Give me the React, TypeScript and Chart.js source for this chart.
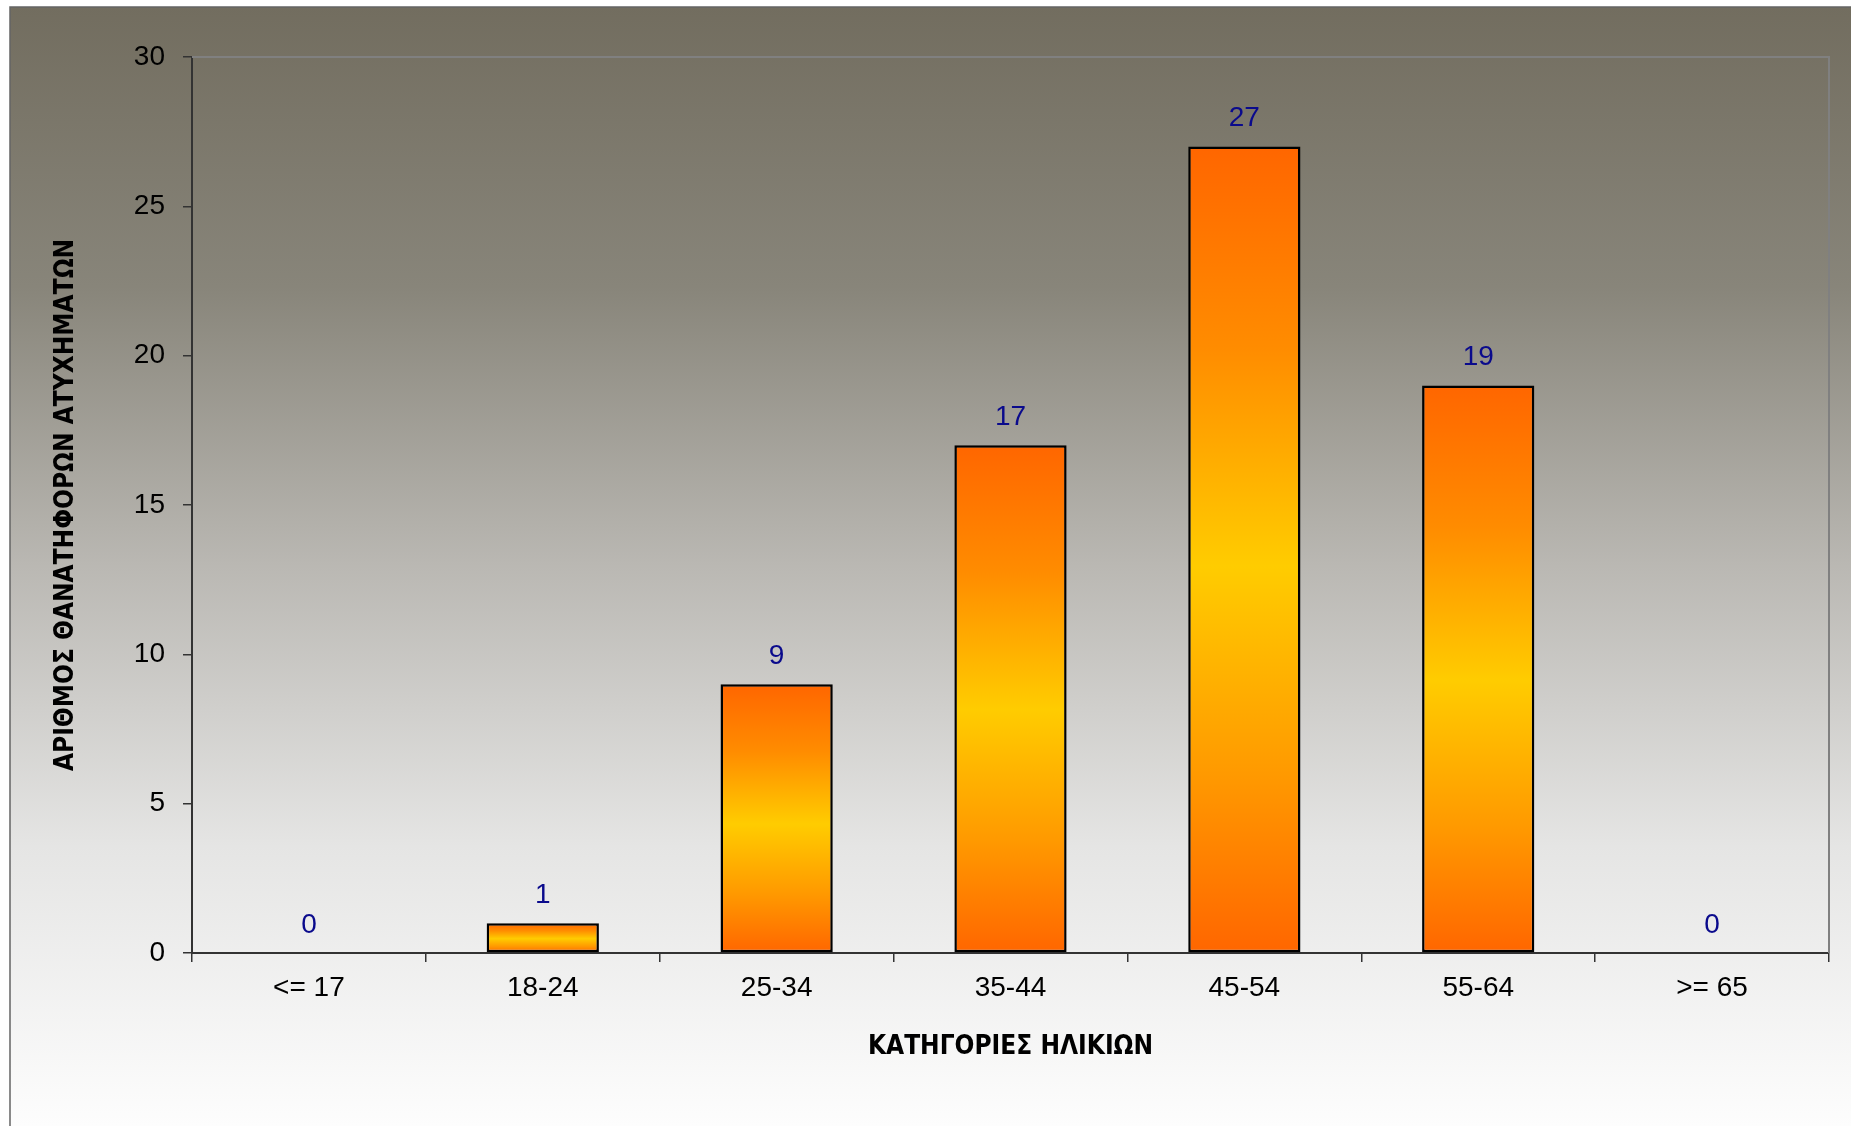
import React, { useEffect, useRef } from "react";
import { Chart, registerables } from "chart.js";

Chart.register(...registerables);

const categories: string[] = ["<= 17", "18-24", "25-34", "35-44", "45-54", "55-64", ">= 65"];
const deaths: number[] = [0, 1, 9, 17, 27, 19, 0];
const yTitle = "ΑΡΙΘΜΟΣ ΘΑΝΑΤΗΦΟΡΩΝ ΑΤΥΧΗΜΑΤΩΝ";
const xTitle = "ΚΑΤΗΓΟΡΙΕΣ ΗΛΙΚΙΩΝ";
const yMin = 0;
const yMax = 30;
const yStep = 5;

const W = 1851;
const H = 1126;

const backgroundPlugin = {
  id: "bgPlugin",
  beforeDraw(chart: any) {
    const ctx = chart.ctx as CanvasRenderingContext2D;
    ctx.save();
    ctx.fillStyle = "#ffffff";
    ctx.fillRect(0, 0, chart.width, chart.height);
    const x0 = 10, y0 = 7;
    const g = ctx.createLinearGradient(0, y0, 0, chart.height);
    g.addColorStop(0, "rgb(114,109,95)");
    g.addColorStop(0.25, "rgb(136,133,122)");
    g.addColorStop(0.5, "rgb(186,184,179)");
    g.addColorStop(0.75, "rgb(229,229,228)");
    g.addColorStop(1, "rgb(253,253,253)");
    ctx.fillStyle = g;
    ctx.fillRect(x0, y0, chart.width - x0, chart.height - y0);
    ctx.strokeStyle = "rgb(100,100,100)";
    ctx.lineWidth = 1.5;
    ctx.beginPath();
    ctx.moveTo(x0, chart.height + 2);
    ctx.lineTo(x0, y0);
    ctx.lineTo(chart.width + 2, y0);
    ctx.stroke();
    ctx.restore();
  },
  afterDraw(chart: any) {
    const ctx = chart.ctx as CanvasRenderingContext2D;
    const a = chart.chartArea;
    ctx.save();
    ctx.strokeStyle = "rgb(128,128,128)";
    ctx.lineWidth = 2;
    ctx.beginPath();
    ctx.moveTo(a.left, a.top);
    ctx.lineTo(a.right, a.top);
    ctx.lineTo(a.right, a.bottom);
    ctx.stroke();
    ctx.restore();
  },
};

const valueLabelPlugin = {
  id: "valueLabels",
  afterDatasetsDraw(chart: any) {
    const ctx = chart.ctx as CanvasRenderingContext2D;
    const meta = chart.getDatasetMeta(0);
    ctx.save();
    ctx.font = '28px "Liberation Sans", Arial, sans-serif';
    ctx.fillStyle = "#0a0a8c";
    ctx.textAlign = "center";
    ctx.textBaseline = "middle";
    meta.data.forEach((el: any, i: number) => {
      const v = chart.data.datasets[0].data[i];
      ctx.fillText(String(v), el.x, el.y - 28);
    });
    ctx.restore();
  },
};

export default function App() {
  const ref = useRef<HTMLCanvasElement | null>(null);

  useEffect(() => {
    document.body.style.margin = "0";
    document.body.style.overflow = "hidden";
    const canvas = ref.current;
    if (!canvas) return;
    const chart = new Chart(canvas, {
      type: "bar",
      data: {
        labels: categories,
        datasets: [
          {
            data: deaths,
            backgroundColor: (c: any) => {
              const ch = c.chart;
              if (!ch.chartArea || c.type !== "data") return "#ff9900";
              const ys = ch.scales.y;
              const top = ys.getPixelForValue(c.raw as number);
              const base = ys.getPixelForValue(0);
              if (base - top < 1) return "#ff6600";
              const g = ch.ctx.createLinearGradient(0, top, 0, base);
              g.addColorStop(0, "#ff6600");
              g.addColorStop(0.25, "#ff8c00");
              g.addColorStop(0.52, "#ffcc00");
              g.addColorStop(0.78, "#ff9900");
              g.addColorStop(1, "#ff6600");
              return g;
            },
            borderColor: "#000000",
            borderWidth: 2.5,
            borderSkipped: false,
            barPercentage: 0.48,
            categoryPercentage: 1,
          },
        ],
      },
      options: {
        responsive: false,
        animation: false,
        layout: { padding: { top: 57, right: 22, bottom: 0, left: 0 } },
        plugins: {
          legend: { display: false },
          tooltip: { enabled: false },
          title: { display: false },
        },
        scales: {
          x: {
            grid: {
              display: true,
              offset: true,
              drawOnChartArea: false,
              drawTicks: true,
              tickLength: 9,
              color: "#333333",
              lineWidth: 1.5,
            },
            border: { display: true, color: "#333333", width: 2 },
            ticks: {
              color: "#000000",
              padding: 9,
              maxRotation: 0,
              font: { family: '"Liberation Sans", Arial, sans-serif', size: 28 },
            },
            title: {
              display: true,
              text: xTitle,
              color: "#000000",
              font: { family: '"Liberation Sans Narrow", "DejaVu Sans Condensed", sans-serif', size: 26, weight: "bold" },
              padding: { top: 0, bottom: 63 },
            },
            afterFit: (s: any) => {
              s.height = 173;
            },
          },
          y: {
            min: yMin,
            max: yMax,
            ticks: {
              stepSize: yStep,
              color: "#000000",
              padding: 18,
              font: { family: '"Liberation Sans", Arial, sans-serif', size: 28 },
            },
            grid: {
              display: true,
              drawOnChartArea: false,
              drawTicks: true,
              tickLength: 9,
              color: "#333333",
              lineWidth: 1.5,
            },
            border: { display: true, color: "#333333", width: 2 },
            title: {
              display: true,
              text: yTitle,
              color: "#000000",
              font: { family: '"Liberation Sans Narrow", "DejaVu Sans Condensed", sans-serif', size: 26, weight: "bold" },
              padding: { top: 51, bottom: 0 },
            },
            afterFit: (s: any) => {
              s.width = 192;
            },
          },
        },
      },
      plugins: [backgroundPlugin, valueLabelPlugin],
    });
    return () => chart.destroy();
  }, []);

  return (
    <div style={{ width: W, height: H }}>
      <canvas ref={ref} width={W} height={H} style={{ display: "block" }} />
    </div>
  );
}
